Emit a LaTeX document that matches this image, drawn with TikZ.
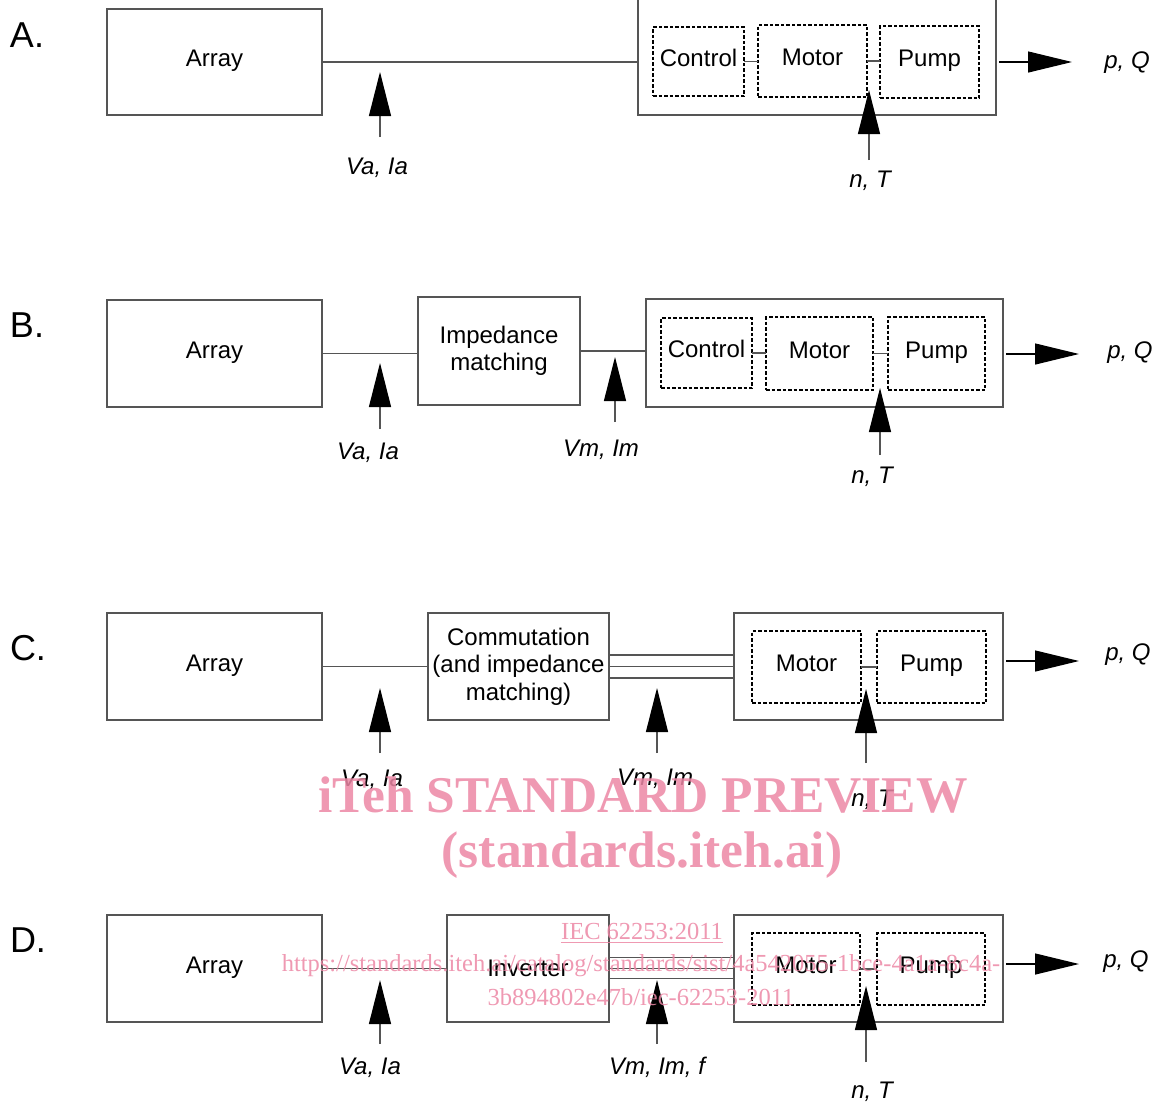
\documentclass[tikz,border=0pt]{standalone}
\usepackage{fontspec}
\setmainfont{Liberation Sans}
\newfontfamily\wmfont{Liberation Serif}
\usetikzlibrary{arrows.meta}
\definecolor{edge}{RGB}{85,85,85}
\definecolor{wm}{RGB}{236,135,165}
\begin{document}
\begin{tikzpicture}[x=1pt,y=-1pt,
  box/.style={draw=edge,line width=1.2pt,inner sep=0pt,outer sep=0pt,align=center,
    font=\fontsize{24}{27.5}\selectfont},
  raised/.style={text height=17pt,text depth=8pt},
  dbox/.style={draw=black,line width=1.4pt,dash pattern=on 3.5pt off 2pt,inner sep=0pt,
    outer sep=0pt,font=\fontsize{24}{27.5}\selectfont,raised},
  conn/.style={draw=edge,line width=1.2pt},
  meas/.style={draw=edge,line width=1.2pt,-{Triangle[length=44pt,width=22pt,color=black]}},
  outarr/.style={draw=black,line width=1.2pt,shorten <=3pt,-{Triangle[length=44pt,width=21pt,color=black]}},
  lbl/.style={inner sep=0pt,font=\fontsize{24}{28}\selectfont\itshape},
  sec/.style={inner sep=0pt,font=\fontsize{36}{40}\selectfont},
  wmbig/.style={inner sep=0pt,text=wm,text opacity=0.85,font=\wmfont\bfseries\fontsize{51.5}{56}\selectfont},
  wmsmall/.style={inner sep=0pt,text=wm,text opacity=0.85,font=\wmfont\fontsize{24.5}{28}\selectfont}
]
\useasboundingbox (0,0) rectangle (1157,1104);

% ---------------- A ----------------
\node[sec] (secA) at (27,35) {A.};
\node[box,raised,minimum width=215pt,minimum height=106pt] (arrA) at (214.5,62) {Array};
\node[box,minimum width=358pt,minimum height=125pt] (sysA) at (817,52.5) {};
\node[dbox,minimum width=91pt,minimum height=69pt] (ctlA) at (698.5,61.5) {Control};
\node[dbox,minimum width=109pt,minimum height=72pt] (motA) at (812.5,61) {Motor};
\node[dbox,minimum width=99pt,minimum height=72pt] (pmpA) at (929.5,62) {Pump};
\draw[conn] (arrA.east) -- (arrA.east -| sysA.west);
\draw[conn] (ctlA.east) -- (ctlA.east -| motA.west);
\draw[conn] (motA.east) -- (motA.east -| pmpA.west);
\coordinate (vaAb) at (380,137); \coordinate (vaAt) at (380,72);
\draw[meas] (vaAb) -- (vaAt);
\node[lbl] (vaAl) at (377,168) {Va, Ia};
\coordinate (ntAb) at (869,160); \coordinate (ntAt) at (869,90);
\draw[meas] (ntAb) -- (ntAt);
\node[lbl] (ntAl) at (870,181) {n, T};
\coordinate (oAt) at (1072,62);
\draw[outarr] (sysA.east |- oAt) -- (oAt);
\node[lbl] (pqA) at (1127,63) {p, Q};

% ---------------- B ----------------
\node[sec] (secB) at (27,325) {B.};
\node[box,raised,minimum width=215pt,minimum height=107pt] (arrB) at (214.5,353.5) {Array};
\node[box,minimum width=162pt,minimum height=108pt] (impB) at (499,351) {Impedance\\matching};
\node[box,minimum width=357pt,minimum height=108pt] (sysB) at (824.5,353) {};
\node[dbox,minimum width=91pt,minimum height=70pt] (ctlB) at (706.5,353) {Control};
\node[dbox,minimum width=107pt,minimum height=73pt] (motB) at (819.5,353.5) {Motor};
\node[dbox,minimum width=97pt,minimum height=73pt] (pmpB) at (936.5,353.5) {Pump};
\draw[conn] (arrB.east) -- (arrB.east -| impB.west);
\draw[conn] (impB.east) -- (impB.east -| sysB.west);
\draw[conn] (ctlB.east) -- (ctlB.east -| motB.west);
\draw[conn] (motB.east) -- (motB.east -| pmpB.west);
\coordinate (vaBb) at (380,429); \coordinate (vaBt) at (380,363);
\draw[meas] (vaBb) -- (vaBt);
\node[lbl] (vaBl) at (368,453) {Va, Ia};
\coordinate (vmBb) at (615,422); \coordinate (vmBt) at (615,357);
\draw[meas] (vmBb) -- (vmBt);
\node[lbl] (vmBl) at (601,450) {Vm, Im};
\coordinate (ntBb) at (880,455); \coordinate (ntBt) at (880,388);
\draw[meas] (ntBb) -- (ntBt);
\node[lbl] (ntBl) at (872,477) {n, T};
\coordinate (oBt) at (1079,354);
\draw[outarr] (sysB.east |- oBt) -- (oBt);
\node[lbl] (pqB) at (1130,353) {p, Q};

% ---------------- C ----------------
\node[sec] (secC) at (28,648) {C.};
\node[box,raised,minimum width=215pt,minimum height=107pt] (arrC) at (214.5,666.5) {Array};
\node[box,minimum width=181pt,minimum height=107pt] (comC) at (518.5,666.5) {Commutation\\(and impedance\\matching)};
\node[box,minimum width=269pt,minimum height=107pt] (sysC) at (868.5,666.5) {};
\node[dbox,minimum width=109pt,minimum height=72pt] (motC) at (806.5,667) {Motor};
\node[dbox,minimum width=109pt,minimum height=72pt] (pmpC) at (931.5,667) {Pump};
\draw[conn] (arrC.east) -- (arrC.east -| comC.west);
\draw[conn] ([yshift=11.5pt]comC.east) -- ([yshift=11.5pt]comC.east -| sysC.west);
\draw[conn] (comC.east) -- (comC.east -| sysC.west);
\draw[conn] ([yshift=-11.5pt]comC.east) -- ([yshift=-11.5pt]comC.east -| sysC.west);
\draw[conn] (motC.east) -- (motC.east -| pmpC.west);
\coordinate (vaCb) at (380,753); \coordinate (vaCt) at (380,688);
\draw[meas] (vaCb) -- (vaCt);
\node[lbl] (vaCl) at (372,780) {Va, Ia};
\coordinate (vmCb) at (657,753); \coordinate (vmCt) at (657,688);
\draw[meas] (vmCb) -- (vmCt);
\node[lbl] (vmCl) at (655,779) {Vm, Im};
\coordinate (ntCb) at (866,763); \coordinate (ntCt) at (866,689);
\draw[meas] (ntCb) -- (ntCt);
\node[lbl] (ntCl) at (872,800) {n, T};
\coordinate (oCt) at (1079,661);
\draw[outarr] (sysC.east |- oCt) -- (oCt);
\node[lbl] (pqC) at (1128,655) {p, Q};

% ---------------- D ----------------
\node[sec] (secD) at (28,940) {D.};
\node[box,raised,minimum width=215pt,minimum height=107pt] (arrD) at (214.5,968.5) {Array};
\node[box,minimum width=162pt,minimum height=107pt] (invD) at (528,968.5) {Inverter};
\node[box,minimum width=269pt,minimum height=107pt] (sysD) at (868.5,968.5) {};
\node[dbox,minimum width=108pt,minimum height=72pt] (motD) at (806,969) {Motor};
\node[dbox,minimum width=108pt,minimum height=72pt] (pmpD) at (931,969) {Pump};
\draw[conn] (arrD.east) -- (arrD.east -| invD.west);
\draw[conn] ([yshift=11pt]invD.east) -- ([yshift=11pt]invD.east -| sysD.west);
\draw[conn] (invD.east) -- (invD.east -| sysD.west);
\draw[conn] ([yshift=-10pt]invD.east) -- ([yshift=-10pt]invD.east -| sysD.west);
\draw[conn] (motD.east) -- (motD.east -| pmpD.west);
\coordinate (vaDb) at (380,1044); \coordinate (vaDt) at (380,980);
\draw[meas] (vaDb) -- (vaDt);
\node[lbl] (vaDl) at (370,1068) {Va, Ia};
\coordinate (vmDb) at (657,1044); \coordinate (vmDt) at (657,980);
\draw[meas] (vmDb) -- (vmDt);
\node[lbl] (vmDl) at (657,1067) {Vm, Im, f};
\coordinate (ntDb) at (866,1062); \coordinate (ntDt) at (866,986);
\draw[meas] (ntDb) -- (ntDt);
\node[lbl] (ntDl) at (872,1092) {n, T};
\coordinate (oDt) at (1079,964);
\draw[outarr] (sysD.east |- oDt) -- (oDt);
\node[lbl] (pqD) at (1126,962) {p, Q};

% ---------------- watermark ----------------
\node[wmbig] (wm1) at (643,795) {iTeh STANDARD PREVIEW};
\node[wmbig] (wm2) at (642,855) {(standards.iteh.ai)};
\node[wmsmall] (wm3) at (642,933) {\underline{IEC 62253:2011}};
\node[wmsmall] (wm4) at (641,966) {https://standards.iteh.ai/catalog/standards/sist/4a542055-1bce-4a1a-8c4a-};
\node[wmsmall] (wm5) at (641,997) {3b894802e47b/iec-62253-2011};
\end{tikzpicture}
\end{document}
